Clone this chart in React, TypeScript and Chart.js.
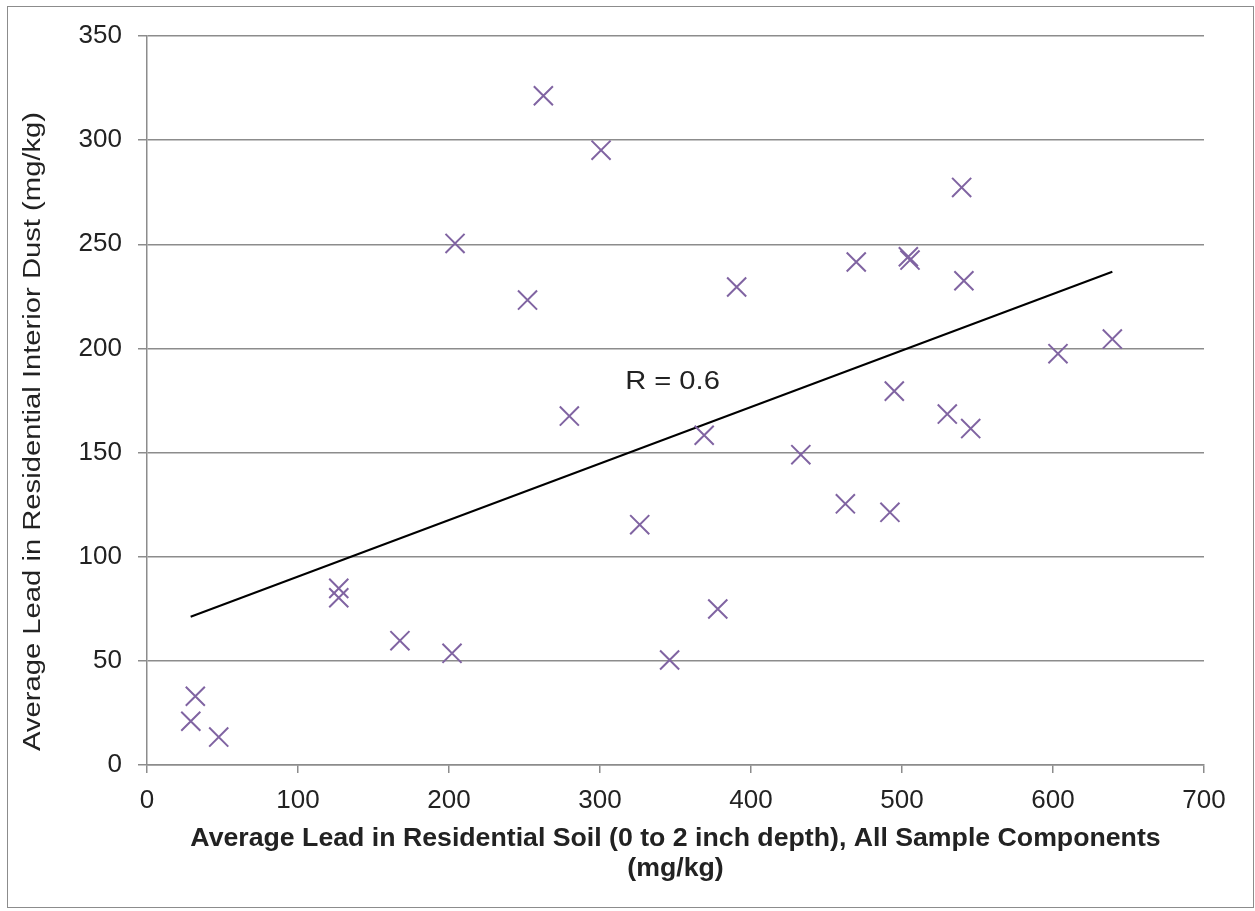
import React, { useEffect, useRef } from "react";
import { Chart, registerables } from "chart.js";

Chart.register(...registerables);

const soilLead: number[] = [
  29, 32, 47.5, 127, 127, 167.5, 202, 204, 252, 262.5, 300.7, 279.7, 326.3, 346.1, 369,
  378, 390.5, 433, 462.5, 469.7, 492, 494.9, 504.2, 505.3, 530, 539.5, 541, 545.5, 603.3, 639.3,
];
const dustLead: number[] = [
  21, 33, 13.4, 84.8, 80.3, 59.7, 53.6, 250.4, 223.2, 321.3, 295.2, 167.5, 115.4, 50.4, 158.3,
  74.9, 229.5, 149, 125.4, 241.5, 121.3, 179.5, 244, 242.4, 168.5, 277.3, 232.5, 161.5, 197.5, 204.5,
];
const trendX: number[] = [28.9, 639.3];
const trendY: number[] = [71.2, 236.8];
const rLabel = "R = 0.6";
const rLabelAt: number[] = [348, 184];
const xTitle: string[] = [
  "Average Lead in Residential Soil (0 to 2 inch depth), All Sample Components",
  "(mg/kg)",
];
const yTitle = "Average Lead in Residential Interior Dust (mg/kg)";

const FONT = "'Liberation Sans', Arial, sans-serif";
const GRID = "#8c8c8c";
const PURPLE = "#8064a2";
const TEXT = "#222222";

const textPlugin = {
  id: "extraText",
  afterDatasetsDraw(chart: any) {
    const { ctx, scales, chartArea } = chart;
    // R label
    const px = scales.x.getPixelForValue(rLabelAt[0]);
    const py = scales.y.getPixelForValue(rLabelAt[1]);
    ctx.save();
    ctx.font = `26px ${FONT}`;
    ctx.fillStyle = TEXT;
    ctx.textAlign = "center";
    ctx.textBaseline = "middle";
    ctx.translate(px, py);
    ctx.scale(1.12, 1);
    ctx.fillText(rLabel, 0, 0);
    ctx.restore();
    // Y axis title (slightly stretched along its length)
    ctx.save();
    ctx.font = `23px ${FONT}`;
    ctx.fillStyle = TEXT;
    ctx.textAlign = "center";
    ctx.textBaseline = "alphabetic";
    const cy = (chartArea.top + chartArea.bottom) / 2 + 31;
    ctx.translate(40, cy);
    ctx.rotate(-Math.PI / 2);
    ctx.scale(1.27, 1);
    ctx.fillText(yTitle, 0, 0);
    ctx.restore();
  },
};

export default function App() {
  const ref = useRef<HTMLCanvasElement | null>(null);
  useEffect(() => {
    if (!ref.current) return;
    const chart = new Chart(ref.current, {
      type: "scatter",
      data: {
        datasets: [
          {
            label: "Data",
            data: soilLead.map((x, i) => ({ x, y: dustLead[i] })),
            pointStyle: "crossRot",
            pointRadius: 13.5,
            pointBorderWidth: 2,
            borderColor: PURPLE,
            backgroundColor: PURPLE,
            showLine: false,
          },
          {
            label: "Trend",
            data: trendX.map((x, i) => ({ x, y: trendY[i] })),
            showLine: true,
            pointRadius: 0,
            borderColor: "#000000",
            borderWidth: 2,
          },
        ],
      },
      options: {
        animation: false,
        responsive: false,
        maintainAspectRatio: false,
        layout: { padding: { top: 36, right: 51, left: 0, bottom: 0 } },
        plugins: { legend: { display: false }, tooltip: { enabled: false } },
        scales: {
          x: {
            type: "linear",
            min: 0,
            max: 700,
            afterFit: (s: any) => {
              s.height = 146;
            },
            ticks: {
              stepSize: 100,
              color: TEXT,
              font: { family: FONT, size: 26 },
              padding: 12,
            },
            grid: {
              drawOnChartArea: false,
              drawTicks: true,
              tickLength: 8,
              color: GRID,
              lineWidth: 1.5,
            },
            border: { color: GRID, width: 1.5 },
            title: {
              display: true,
              text: xTitle,
              color: TEXT,
              font: { family: FONT, size: 26.7, weight: "bold", lineHeight: 1.1 },
              padding: { top: 0, bottom: 28 },
            },
          },
          y: {
            type: "linear",
            min: 0,
            max: 350,
            afterFit: (s: any) => {
              s.width = 147;
            },
            ticks: {
              stepSize: 50,
              color: TEXT,
              font: { family: FONT, size: 26 },
              padding: 16,
            },
            grid: {
              drawOnChartArea: true,
              drawTicks: true,
              tickLength: 9,
              color: GRID,
              lineWidth: 1.5,
            },
            border: { color: GRID, width: 1.5 },
            title: { display: false },
          },
        },
      },
      plugins: [textPlugin],
    });
    return () => chart.destroy();
  }, []);

  return (
    <div style={{ position: "fixed", left: 0, top: 0, width: 1255, height: 911, background: "#fff" }}>
      <div
        style={{
          position: "absolute",
          left: 7,
          top: 6,
          width: 1247,
          height: 902,
          border: "1.5px solid #8c8c8c",
          boxSizing: "border-box",
        }}
      />
      <canvas
        ref={ref}
        width={1255}
        height={911}
        style={{ position: "absolute", left: 0, top: 0, width: 1255, height: 911 }}
      />
    </div>
  );
}
